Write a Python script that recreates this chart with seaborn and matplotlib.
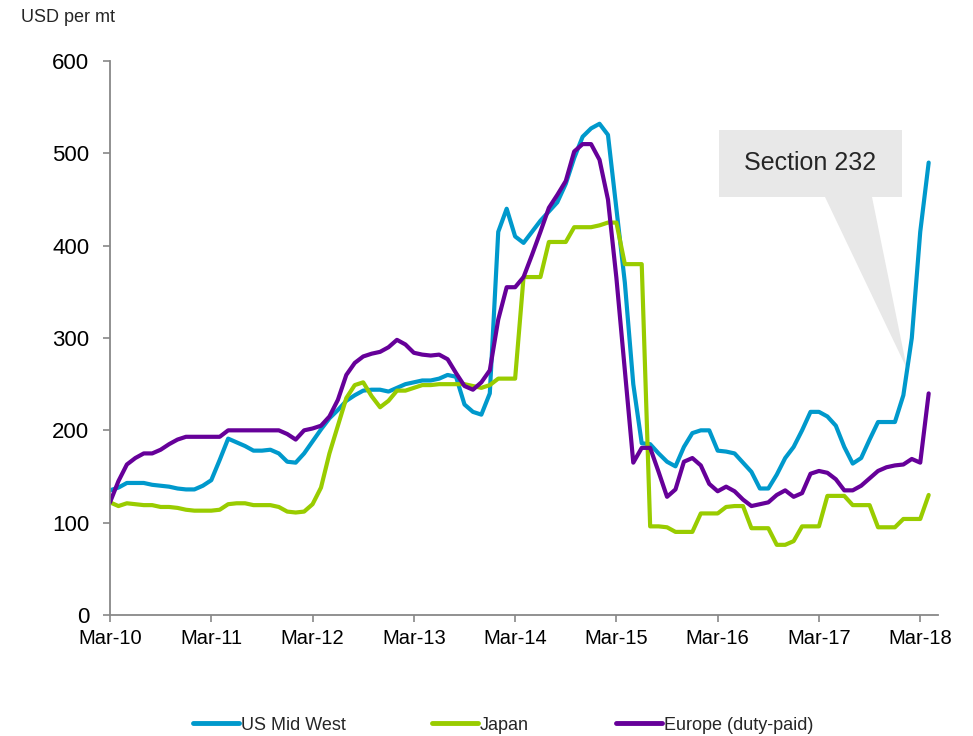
import numpy as np
import pandas as pd
import matplotlib
matplotlib.use("Agg")
import matplotlib.pyplot as plt
import seaborn as sns
from matplotlib.patches import Polygon

# ---------------- data ----------------
series_names = ["US Mid West", "Japan", "Europe (duty-paid)"]
tick_labels = ["Mar-10", "Mar-11", "Mar-12", "Mar-13", "Mar-14",
               "Mar-15", "Mar-16", "Mar-17", "Mar-18"]

us_mid_west = [135, 138, 143, 143, 143, 141, 140, 139, 137, 136,
               136, 140, 146, 168, 191, 187, 183, 178, 178, 179,
               175, 166, 165, 175, 188, 201, 213, 222, 232, 238,
               243, 244, 244, 242, 246, 250, 252, 254, 254, 256,
               260, 258, 228, 220, 217, 240, 415, 440, 410, 403,
               415, 427, 437, 447, 467, 495, 518, 527, 532, 520,
               440, 360, 250, 186, 185, 175, 166, 161, 182, 197,
               200, 200, 178, 177, 175, 165, 155, 137, 137, 152,
               170, 182, 200, 220, 220, 215, 205, 182, 164, 170,
               190, 209, 209, 209, 238, 300, 415, 490]

japan = [122, 118, 121, 120, 119, 119, 117, 117, 116, 114,
         113, 113, 113, 114, 120, 121, 121, 119, 119, 119,
         117, 112, 111, 112, 120, 138, 175, 205, 235, 249,
         252, 237, 225, 232, 243, 243, 246, 249, 249, 250,
         250, 250, 250, 248, 246, 249, 256, 256, 256, 366,
         366, 366, 404, 404, 404, 420, 420, 420, 422, 425,
         425, 380, 380, 380, 96, 96, 95, 90, 90, 90,
         110, 110, 110, 117, 118, 118, 94, 94, 94, 76,
         76, 80, 96, 96, 96, 129, 129, 129, 119, 119,
         119, 95, 95, 95, 104, 104, 104, 130]

europe = [122, 145, 163, 170, 175, 175, 179, 185, 190, 193,
          193, 193, 193, 193, 200, 200, 200, 200, 200, 200,
          200, 196, 190, 200, 202, 205, 215, 233, 260, 273,
          280, 283, 285, 290, 298, 293, 284, 282, 281, 282,
          277, 262, 248, 244, 252, 265, 320, 355, 355, 366,
          390, 415, 441, 455, 470, 502, 510, 510, 493, 450,
          365, 265, 165, 181, 181, 155, 128, 136, 166, 170,
          162, 142, 134, 139, 134, 125, 118, 120, 122, 130,
          135, 128, 132, 153, 156, 154, 147, 135, 135, 140,
          148, 156, 160, 162, 163, 169, 165, 240]

colors = ["#0099CC", "#99CC00", "#660099"]

# ---------------- style ----------------
sns.set_style("white")
plt.rcParams["font.family"] = ["Liberation Sans", "DejaVu Sans"]

months = np.arange(len(us_mid_west))
df = pd.DataFrame({
    "month": np.tile(months, 3),
    "value": us_mid_west + japan + europe,
    "series": np.repeat(series_names, len(months)),
})

W, H = 973, 736
fig = plt.figure(figsize=(W / 100, H / 100), dpi=100)
ax = fig.add_axes([110 / W, 1 - 615 / H, (938 - 110) / W, (615 - 61) / H])

sns.lineplot(data=df, x="month", y="value", hue="series",
             hue_order=series_names, palette=colors, linewidth=3.0,
             ax=ax, legend=True)

ax.set_xlim(0, (938 - 110) / 8.44)
ax.set_ylim(0, 600)
ax.set_xticks(np.arange(0, 97, 12))
ax.set_xticklabels(tick_labels)
ax.set_yticks(range(0, 601, 100))
ax.set_xlabel("")
ax.set_ylabel("")

for s in ["top", "right"]:
    ax.spines[s].set_visible(False)
for s in ["left", "bottom"]:
    ax.spines[s].set_color("#888888")
    ax.spines[s].set_linewidth(1.3)

ax.tick_params(axis="both", direction="out", color="#888888", length=5,
               width=1.2, bottom=True, left=True, labelcolor="black")
ax.tick_params(axis="y", labelsize=16, pad=10)
ax.tick_params(axis="x", labelsize=14.5, pad=5)

# legend
handles, labels = ax.get_legend_handles_labels()
ax.get_legend().remove()
leg = fig.legend(handles, labels, loc="center",
                 bbox_to_anchor=(503 / W, 1 - 725 / H), ncol=3,
                 frameon=False, fontsize=13, handlelength=2.55,
                 handletextpad=0.1, columnspacing=4.8)
for ln in leg.get_lines():
    ln.set_linewidth(3.5)

# unit label
fig.text(21 / W, 1 - 17 / H, "USD per mt", ha="left", va="center",
         fontsize=13)

# callout
pts_px = [(719, 130), (902, 130), (902, 197), (872, 197), (907, 369),
          (825, 197), (719, 197)]
pts = [(x / W, 1 - y / H) for x, y in pts_px]
ax.add_patch(Polygon(pts, closed=True, transform=fig.transFigure,
                     facecolor="#e8e8e8", edgecolor="none", zorder=1,
                     clip_on=False))
ax.text(810 / W, 1 - 163 / H, "Section 232", transform=fig.transFigure,
        ha="center", va="center", fontsize=18, zorder=3)

fig.savefig("out.png", dpi=100)
